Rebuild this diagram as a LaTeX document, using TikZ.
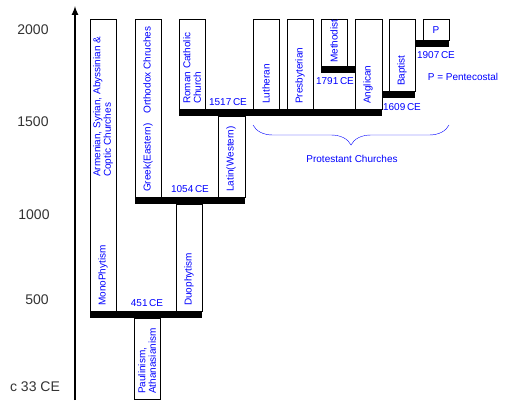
\documentclass[tikz,border=0pt]{standalone}
\usepackage{fontspec}
\setmainfont{Liberation Sans}
\usepackage{xcolor}
\usepackage{tikz}
\usetikzlibrary{decorations.pathreplacing}

\begin{document}
\begin{tikzpicture}[x=1pt, y=-1pt,
  branchbox/.style={draw=black, line width=0.8pt},
  splitbar/.style={fill=black},
  boxlabel/.style={rotate=90, anchor=west, inner sep=0pt, text=blue, align=left, font=\fontsize{10}{10.5}\selectfont},
  yearlabel/.style={text=blue, inner sep=0pt, font=\fontsize{10}{12}\selectfont},
  axislabel/.style={text=black!80, inner sep=0pt, font=\fontsize{14}{16}\selectfont}]

\useasboundingbox (0,0) rectangle (510,410);

% time axis
\coordinate (axisbottom) at (75,400);
\coordinate (axistop) at (75,6);
\draw[line width=2pt, -latex] (axisbottom) -- (axistop);
\node[axislabel] at (33,30) (y2000) {2000};
\node[axislabel] at (33,122) (y1500) {1500};
\node[axislabel] at (34,215) (y1000) {1000};
\node[axislabel] at (37,300) (y500) {500};
\node[axislabel] at (35,387) (y33) {c 33 CE};

% branches
\draw[branchbox] (134,318) rectangle (160,399);
\draw[branchbox] (90,19) rectangle (116,311);
\draw[branchbox] (176,204) rectangle (202,311);
\draw[branchbox] (135,19) rectangle (161,197);
\draw[branchbox] (218,116) rectangle (245,197);
\draw[branchbox] (179,19) rectangle (205,109);
\draw[branchbox] (253,19) rectangle (279,109);
\draw[branchbox] (287,19) rectangle (313,109);
\draw[branchbox] (321,19) rectangle (347,66);
\draw[branchbox] (355,19) rectangle (382,109);
\draw[branchbox] (389,19) rectangle (415,91);
\draw[branchbox] (423,19) rectangle (449,40);

% splits
\fill[splitbar] (90,311) rectangle (202,318);
\fill[splitbar] (135,197) rectangle (245,204);
\fill[splitbar] (179,109) rectangle (382,116);
\fill[splitbar] (321,66) rectangle (355,73);
\fill[splitbar] (382,91) rectangle (415,98);
\fill[splitbar] (416,40) rectangle (449,47);

\node[yearlabel] at (147,303) (y451) {451\,CE};
\node[yearlabel] at (190,189) (y1054) {1054\,CE};
\node[yearlabel] at (228,102) (y1517) {1517\,CE};
\node[yearlabel] at (335,81) (y1791) {1791\,CE};
\node[yearlabel] at (402,107) (y1609) {1609\,CE};
\node[yearlabel] at (436,55) (y1907) {1907\,CE};

% branch names
\node[boxlabel] at (147,394) (paul) {Paulinism,\\Athanasianism};
\node[boxlabel] at (103,306) (mono) {MonoPhytism};
\node[boxlabel] at (103,177) (oriental) {Armenian, Syrian, Abyssinian \&\\Coptic Churches};
\node[boxlabel] at (189,306) (duo) {Duophytism};
\node[boxlabel] at (148,192) (greek) {Greek(Eastern)\quad Orthodox Chruches};
\node[boxlabel] at (231,192) (latin) {Latin(Western)};
\node[boxlabel] at (192,104) (roman) {Roman Catholic\\Church};
\node[boxlabel] at (266,104) (luther) {Lutheran};
\node[boxlabel] at (300,104) (presby) {Presbyterian};
\node[boxlabel] at (334,63) (method) {Methodist};
\node[boxlabel] at (368,104) (anglic) {Anglican};
\node[boxlabel] at (402,86) (baptist) {Baptist};
\node[yearlabel] at (436,30) (pente) {P};
\node[yearlabel] at (463,77) (pkey) {P = Pentecostal};

% protestant group
\coordinate (braceL) at (253,125);
\coordinate (braceR) at (449,125);
\draw[blue, decorate, decoration={brace, mirror, amplitude=20pt}] (braceL) -- (braceR);
\node[yearlabel] at (352,159) (prot) {Protestant Churches};

\end{tikzpicture}
\end{document}
